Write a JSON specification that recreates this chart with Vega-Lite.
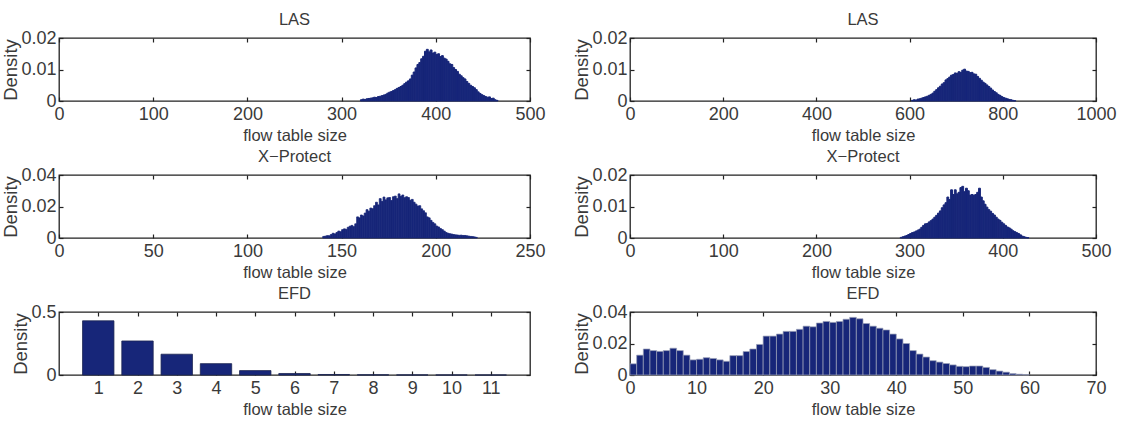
{
  "$schema": "https://vega.github.io/schema/vega-lite/v6.json",
  "padding": {"left": 1, "top": 10, "right": 2, "bottom": 2},
  "background": "white",
  "config": {
    "font": "Liberation Sans",
    "view": {"stroke": "#222222", "strokeWidth": 1.3},
    "axis": {"labelFont": "Liberation Sans", "titleFont": "Liberation Sans", "labelFontSize": 18, "titleFontSize": 18, "titleFontWeight": "normal", "labelColor": "#3a3a3a", "titleColor": "#3a3a3a", "tickColor": "#222222", "tickSize": -4, "tickWidth": 1.2, "labelPadding": 8, "domain": false, "grid": false, "labelFlush": false, "labelOverlap": false, "labelBound": false},
    "axisX": {"titlePadding": 4, "titleFontSize": 16.5},
    "axisY": {"titlePadding": 0, "labelPadding": 7, "titleFontSize": 18.5},
    "axisTop": {"minExtent": 0},
    "axisRight": {"minExtent": 0},
    "title": {"font": "Liberation Sans", "fontSize": 16.5, "fontWeight": "normal", "color": "#3a3a3a", "offset": 1},
    "bar": {"color": "#172679"}
  },
  "bounds": "flush",
  "columns": 2,
  "spacing": {"row": 74, "column": 100},
  "datasets": {
    "lasL": [
      {"lo":320,"hi":322,"density":0.0004},{"lo":322,"hi":324,"density":0.0006},{"lo":324,"hi":326,"density":0.0005},{"lo":326,"hi":328,"density":0.0007},{"lo":328,"hi":330,"density":0.0008},{"lo":330,"hi":332,"density":0.0009},{"lo":332,"hi":334,"density":0.0010},{"lo":334,"hi":336,"density":0.0012},{"lo":336,"hi":338,"density":0.0011},{"lo":338,"hi":340,"density":0.0014},{"lo":340,"hi":342,"density":0.0015},{"lo":342,"hi":344,"density":0.0017},{"lo":344,"hi":346,"density":0.0019},{"lo":346,"hi":348,"density":0.0021},{"lo":348,"hi":350,"density":0.0025},{"lo":350,"hi":352,"density":0.0028},{"lo":352,"hi":354,"density":0.0030},{"lo":354,"hi":356,"density":0.0033},{"lo":356,"hi":358,"density":0.0036},{"lo":358,"hi":360,"density":0.0040},{"lo":360,"hi":362,"density":0.0043},{"lo":362,"hi":364,"density":0.0046},{"lo":364,"hi":366,"density":0.0050},{"lo":366,"hi":368,"density":0.0055},{"lo":368,"hi":370,"density":0.0060},{"lo":370,"hi":372,"density":0.0064},{"lo":372,"hi":374,"density":0.0070},{"lo":374,"hi":376,"density":0.0082},{"lo":376,"hi":378,"density":0.0092},{"lo":378,"hi":380,"density":0.0105},{"lo":380,"hi":382,"density":0.0116},{"lo":382,"hi":384,"density":0.0122},{"lo":384,"hi":386,"density":0.0134},{"lo":386,"hi":388,"density":0.0142},{"lo":388,"hi":390,"density":0.0158},{"lo":390,"hi":392,"density":0.0164},{"lo":392,"hi":394,"density":0.0156},{"lo":394,"hi":396,"density":0.0162},{"lo":396,"hi":398,"density":0.0152},{"lo":398,"hi":400,"density":0.0155},{"lo":400,"hi":402,"density":0.0148},{"lo":402,"hi":404,"density":0.0150},{"lo":404,"hi":406,"density":0.0141},{"lo":406,"hi":408,"density":0.0144},{"lo":408,"hi":410,"density":0.0136},{"lo":410,"hi":412,"density":0.0133},{"lo":412,"hi":414,"density":0.0126},{"lo":414,"hi":416,"density":0.0118},{"lo":416,"hi":418,"density":0.0116},{"lo":418,"hi":420,"density":0.0106},{"lo":420,"hi":422,"density":0.0100},{"lo":422,"hi":424,"density":0.0094},{"lo":424,"hi":426,"density":0.0085},{"lo":426,"hi":428,"density":0.0080},{"lo":428,"hi":430,"density":0.0074},{"lo":430,"hi":432,"density":0.0070},{"lo":432,"hi":434,"density":0.0062},{"lo":434,"hi":436,"density":0.0056},{"lo":436,"hi":438,"density":0.0050},{"lo":438,"hi":440,"density":0.0046},{"lo":440,"hi":442,"density":0.0042},{"lo":442,"hi":444,"density":0.0036},{"lo":444,"hi":446,"density":0.0029},{"lo":446,"hi":448,"density":0.0024},{"lo":448,"hi":450,"density":0.0020},{"lo":450,"hi":452,"density":0.0017},{"lo":452,"hi":454,"density":0.0014},{"lo":454,"hi":456,"density":0.0012},{"lo":456,"hi":458,"density":0.0013},{"lo":458,"hi":460,"density":0.0008},{"lo":460,"hi":462,"density":0.0009},{"lo":462,"hi":464,"density":0.0004},{"lo":464,"hi":466,"density":0.0002}
    ],
    "lasR": [
      {"lo":604,"hi":608,"density":0.0002},{"lo":608,"hi":612,"density":0.0004},{"lo":612,"hi":616,"density":0.0003},{"lo":616,"hi":620,"density":0.0006},{"lo":620,"hi":624,"density":0.0007},{"lo":624,"hi":628,"density":0.0009},{"lo":628,"hi":632,"density":0.0011},{"lo":632,"hi":636,"density":0.0013},{"lo":636,"hi":640,"density":0.0015},{"lo":640,"hi":644,"density":0.0018},{"lo":644,"hi":648,"density":0.0021},{"lo":648,"hi":652,"density":0.0025},{"lo":652,"hi":656,"density":0.0031},{"lo":656,"hi":660,"density":0.0036},{"lo":660,"hi":664,"density":0.0042},{"lo":664,"hi":668,"density":0.0047},{"lo":668,"hi":672,"density":0.0054},{"lo":672,"hi":676,"density":0.0058},{"lo":676,"hi":680,"density":0.0067},{"lo":680,"hi":684,"density":0.0071},{"lo":684,"hi":688,"density":0.0076},{"lo":688,"hi":692,"density":0.0082},{"lo":692,"hi":696,"density":0.0084},{"lo":696,"hi":700,"density":0.0089},{"lo":700,"hi":704,"density":0.0088},{"lo":704,"hi":708,"density":0.0093},{"lo":708,"hi":712,"density":0.0091},{"lo":712,"hi":716,"density":0.0098},{"lo":716,"hi":720,"density":0.0101},{"lo":720,"hi":724,"density":0.0095},{"lo":724,"hi":728,"density":0.0094},{"lo":728,"hi":732,"density":0.0090},{"lo":732,"hi":736,"density":0.0091},{"lo":736,"hi":740,"density":0.0086},{"lo":740,"hi":744,"density":0.0085},{"lo":744,"hi":748,"density":0.0078},{"lo":748,"hi":752,"density":0.0072},{"lo":752,"hi":756,"density":0.0066},{"lo":756,"hi":760,"density":0.0060},{"lo":760,"hi":764,"density":0.0056},{"lo":764,"hi":768,"density":0.0051},{"lo":768,"hi":772,"density":0.0046},{"lo":772,"hi":776,"density":0.0041},{"lo":776,"hi":780,"density":0.0035},{"lo":780,"hi":784,"density":0.0030},{"lo":784,"hi":788,"density":0.0026},{"lo":788,"hi":792,"density":0.0021},{"lo":792,"hi":796,"density":0.0018},{"lo":796,"hi":800,"density":0.0014},{"lo":800,"hi":804,"density":0.0011},{"lo":804,"hi":808,"density":0.0009},{"lo":808,"hi":812,"density":0.0007},{"lo":812,"hi":816,"density":0.0005},{"lo":816,"hi":820,"density":0.0004},{"lo":820,"hi":824,"density":0.0002},{"lo":824,"hi":828,"density":0.0001}
    ],
    "xpL": [
      {"lo":140,"hi":141,"density":0.0010},{"lo":141,"hi":142,"density":0.0012},{"lo":142,"hi":143,"density":0.0015},{"lo":143,"hi":144,"density":0.0014},{"lo":144,"hi":145,"density":0.0022},{"lo":145,"hi":146,"density":0.0030},{"lo":146,"hi":147,"density":0.0026},{"lo":147,"hi":148,"density":0.0035},{"lo":148,"hi":149,"density":0.0044},{"lo":149,"hi":150,"density":0.0040},{"lo":150,"hi":151,"density":0.0053},{"lo":151,"hi":152,"density":0.0058},{"lo":152,"hi":153,"density":0.0055},{"lo":153,"hi":154,"density":0.0068},{"lo":154,"hi":155,"density":0.0075},{"lo":155,"hi":156,"density":0.0080},{"lo":156,"hi":157,"density":0.0072},{"lo":157,"hi":158,"density":0.0090},{"lo":158,"hi":159,"density":0.0134},{"lo":159,"hi":160,"density":0.0128},{"lo":160,"hi":161,"density":0.0146},{"lo":161,"hi":162,"density":0.0140},{"lo":162,"hi":163,"density":0.0158},{"lo":163,"hi":164,"density":0.0180},{"lo":164,"hi":165,"density":0.0170},{"lo":165,"hi":166,"density":0.0190},{"lo":166,"hi":167,"density":0.0186},{"lo":167,"hi":168,"density":0.0205},{"lo":168,"hi":169,"density":0.0227},{"lo":169,"hi":170,"density":0.0210},{"lo":170,"hi":171,"density":0.0250},{"lo":171,"hi":172,"density":0.0232},{"lo":172,"hi":173,"density":0.0260},{"lo":173,"hi":174,"density":0.0242},{"lo":174,"hi":175,"density":0.0255},{"lo":175,"hi":176,"density":0.0257},{"lo":176,"hi":177,"density":0.0238},{"lo":177,"hi":178,"density":0.0262},{"lo":178,"hi":179,"density":0.0266},{"lo":179,"hi":180,"density":0.0250},{"lo":180,"hi":181,"density":0.0280},{"lo":181,"hi":182,"density":0.0265},{"lo":182,"hi":183,"density":0.0273},{"lo":183,"hi":184,"density":0.0256},{"lo":184,"hi":185,"density":0.0262},{"lo":185,"hi":186,"density":0.0257},{"lo":186,"hi":187,"density":0.0240},{"lo":187,"hi":188,"density":0.0245},{"lo":188,"hi":189,"density":0.0227},{"lo":189,"hi":190,"density":0.0215},{"lo":190,"hi":191,"density":0.0203},{"lo":191,"hi":192,"density":0.0205},{"lo":192,"hi":193,"density":0.0185},{"lo":193,"hi":194,"density":0.0173},{"lo":194,"hi":195,"density":0.0160},{"lo":195,"hi":196,"density":0.0134},{"lo":196,"hi":197,"density":0.0128},{"lo":197,"hi":198,"density":0.0112},{"lo":198,"hi":199,"density":0.0099},{"lo":199,"hi":200,"density":0.0090},{"lo":200,"hi":201,"density":0.0076},{"lo":201,"hi":202,"density":0.0070},{"lo":202,"hi":203,"density":0.0060},{"lo":203,"hi":204,"density":0.0053},{"lo":204,"hi":205,"density":0.0044},{"lo":205,"hi":206,"density":0.0035},{"lo":206,"hi":207,"density":0.0030},{"lo":207,"hi":208,"density":0.0027},{"lo":208,"hi":209,"density":0.0025},{"lo":209,"hi":210,"density":0.0022},{"lo":210,"hi":211,"density":0.0020},{"lo":211,"hi":212,"density":0.0019},{"lo":212,"hi":213,"density":0.0017},{"lo":213,"hi":214,"density":0.0018},{"lo":214,"hi":215,"density":0.0016},{"lo":215,"hi":216,"density":0.0016},{"lo":216,"hi":217,"density":0.0014},{"lo":217,"hi":218,"density":0.0012},{"lo":218,"hi":219,"density":0.0010},{"lo":219,"hi":220,"density":0.0009},{"lo":220,"hi":221,"density":0.0007},{"lo":221,"hi":222,"density":0.0004}
    ],
    "xpR": [
      {"lo":290,"hi":292,"density":0.0002},{"lo":292,"hi":294,"density":0.0004},{"lo":294,"hi":296,"density":0.0006},{"lo":296,"hi":298,"density":0.0008},{"lo":298,"hi":300,"density":0.0011},{"lo":300,"hi":302,"density":0.0014},{"lo":302,"hi":304,"density":0.0017},{"lo":304,"hi":306,"density":0.0019},{"lo":306,"hi":308,"density":0.0022},{"lo":308,"hi":310,"density":0.0025},{"lo":310,"hi":312,"density":0.0028},{"lo":312,"hi":314,"density":0.0034},{"lo":314,"hi":316,"density":0.0040},{"lo":316,"hi":318,"density":0.0045},{"lo":318,"hi":320,"density":0.0046},{"lo":320,"hi":322,"density":0.0051},{"lo":322,"hi":324,"density":0.0055},{"lo":324,"hi":326,"density":0.0060},{"lo":326,"hi":328,"density":0.0066},{"lo":328,"hi":330,"density":0.0072},{"lo":330,"hi":332,"density":0.0079},{"lo":332,"hi":334,"density":0.0086},{"lo":334,"hi":336,"density":0.0096},{"lo":336,"hi":338,"density":0.0105},{"lo":338,"hi":340,"density":0.0112},{"lo":340,"hi":342,"density":0.0130},{"lo":342,"hi":344,"density":0.0122},{"lo":344,"hi":346,"density":0.0153},{"lo":346,"hi":348,"density":0.0138},{"lo":348,"hi":350,"density":0.0153},{"lo":350,"hi":352,"density":0.0140},{"lo":352,"hi":354,"density":0.0145},{"lo":354,"hi":356,"density":0.0160},{"lo":356,"hi":358,"density":0.0164},{"lo":358,"hi":360,"density":0.0147},{"lo":360,"hi":362,"density":0.0158},{"lo":362,"hi":364,"density":0.0150},{"lo":364,"hi":366,"density":0.0136},{"lo":366,"hi":368,"density":0.0138},{"lo":368,"hi":370,"density":0.0136},{"lo":370,"hi":372,"density":0.0138},{"lo":372,"hi":374,"density":0.0145},{"lo":374,"hi":376,"density":0.0158},{"lo":376,"hi":378,"density":0.0130},{"lo":378,"hi":380,"density":0.0118},{"lo":380,"hi":382,"density":0.0107},{"lo":382,"hi":384,"density":0.0098},{"lo":384,"hi":386,"density":0.0090},{"lo":386,"hi":388,"density":0.0085},{"lo":388,"hi":390,"density":0.0078},{"lo":390,"hi":392,"density":0.0073},{"lo":392,"hi":394,"density":0.0066},{"lo":394,"hi":396,"density":0.0060},{"lo":396,"hi":398,"density":0.0056},{"lo":398,"hi":400,"density":0.0050},{"lo":400,"hi":402,"density":0.0045},{"lo":402,"hi":404,"density":0.0040},{"lo":404,"hi":406,"density":0.0035},{"lo":406,"hi":408,"density":0.0032},{"lo":408,"hi":410,"density":0.0028},{"lo":410,"hi":412,"density":0.0023},{"lo":412,"hi":414,"density":0.0020},{"lo":414,"hi":416,"density":0.0017},{"lo":416,"hi":418,"density":0.0014},{"lo":418,"hi":420,"density":0.0010},{"lo":420,"hi":422,"density":0.0006},{"lo":422,"hi":424,"density":0.0004},{"lo":424,"hi":426,"density":0.0002},{"lo":426,"hi":428,"density":0.0001}
    ],
    "efdL": [
      {"lo":0.6,"hi":1.4,"density":0.43},{"lo":1.6,"hi":2.4,"density":0.27},{"lo":2.6,"hi":3.4,"density":0.165},{"lo":3.6,"hi":4.4,"density":0.09},{"lo":4.6,"hi":5.4,"density":0.035},{"lo":5.6,"hi":6.4,"density":0.012},{"lo":6.6,"hi":7.4,"density":0.004},{"lo":7.6,"hi":8.4,"density":0.0015},{"lo":8.6,"hi":9.4,"density":0.0006},{"lo":9.6,"hi":10.4,"density":0.0003},{"lo":10.6,"hi":11.4,"density":0.0001}
    ],
    "efdR": [
      {"lo":0,"hi":1,"density":0.0071},{"lo":1,"hi":2,"density":0.0126},{"lo":2,"hi":3,"density":0.0165},{"lo":3,"hi":4,"density":0.0155},{"lo":4,"hi":5,"density":0.0150},{"lo":5,"hi":6,"density":0.0155},{"lo":6,"hi":7,"density":0.0170},{"lo":7,"hi":8,"density":0.0155},{"lo":8,"hi":9,"density":0.0126},{"lo":9,"hi":10,"density":0.0096},{"lo":10,"hi":11,"density":0.0100},{"lo":11,"hi":12,"density":0.0110},{"lo":12,"hi":13,"density":0.0105},{"lo":13,"hi":14,"density":0.0096},{"lo":14,"hi":15,"density":0.0087},{"lo":15,"hi":16,"density":0.0123},{"lo":16,"hi":17,"density":0.0123},{"lo":17,"hi":18,"density":0.0149},{"lo":18,"hi":19,"density":0.0165},{"lo":19,"hi":20,"density":0.0194},{"lo":20,"hi":21,"density":0.0247},{"lo":21,"hi":22,"density":0.0247},{"lo":22,"hi":23,"density":0.0260},{"lo":23,"hi":24,"density":0.0277},{"lo":24,"hi":25,"density":0.0277},{"lo":25,"hi":26,"density":0.0290},{"lo":26,"hi":27,"density":0.0310},{"lo":27,"hi":28,"density":0.0306},{"lo":28,"hi":29,"density":0.0330},{"lo":29,"hi":30,"density":0.0340},{"lo":30,"hi":31,"density":0.0334},{"lo":31,"hi":32,"density":0.0340},{"lo":32,"hi":33,"density":0.0354},{"lo":33,"hi":34,"density":0.0366},{"lo":34,"hi":35,"density":0.0357},{"lo":35,"hi":36,"density":0.0327},{"lo":36,"hi":37,"density":0.0310},{"lo":37,"hi":38,"density":0.0297},{"lo":38,"hi":39,"density":0.0286},{"lo":39,"hi":40,"density":0.0260},{"lo":40,"hi":41,"density":0.0229},{"lo":41,"hi":42,"density":0.0200},{"lo":42,"hi":43,"density":0.0155},{"lo":43,"hi":44,"density":0.0133},{"lo":44,"hi":45,"density":0.0114},{"lo":45,"hi":46,"density":0.0091},{"lo":46,"hi":47,"density":0.0082},{"lo":47,"hi":48,"density":0.0073},{"lo":48,"hi":49,"density":0.0064},{"lo":49,"hi":50,"density":0.0055},{"lo":50,"hi":51,"density":0.0053},{"lo":51,"hi":52,"density":0.0057},{"lo":52,"hi":53,"density":0.0057},{"lo":53,"hi":54,"density":0.0048},{"lo":54,"hi":55,"density":0.0034},{"lo":55,"hi":56,"density":0.0025},{"lo":56,"hi":57,"density":0.0018},{"lo":57,"hi":58,"density":0.0009},{"lo":58,"hi":59,"density":0.0005},{"lo":59,"hi":60,"density":0.0002}
    ]
  },
  "concat": [
    {
      "title": "LAS", "width": 471, "height": 63, "data": {"name": "lasL"},
      "layer": [
        {"mark": {"type": "bar", "stroke": "#172679", "strokeWidth": 1},
         "encoding": {
           "x": {"field": "lo", "type": "quantitative", "scale": {"domain": [0, 500], "nice": false, "zero": false}, "axis": {"orient": "bottom", "values": [0, 100, 200, 300, 400, 500], "format": "d", "title": "flow table size"}},
           "x2": {"field": "hi"},
           "y": {"field": "density", "type": "quantitative", "scale": {"domain": [0, 0.02], "nice": false}, "axis": {"orient": "left", "values": [0, 0.01, 0.02], "format": "~g", "title": "Density"}},
           "y2": {"datum": 0}}},
        {"mark": {"type": "bar", "opacity": 0},
         "encoding": {
           "x": {"field": "lo", "type": "quantitative", "axis": {"orient": "top", "values": [0, 100, 200, 300, 400, 500], "labels": false, "title": null}},
           "x2": {"field": "hi"},
           "y": {"field": "density", "type": "quantitative", "axis": {"orient": "right", "values": [0, 0.01, 0.02], "labels": false, "title": null}},
           "y2": {"datum": 0}}}
      ],
      "resolve": {"axis": {"x": "independent", "y": "independent"}}
    },
    {
      "title": "LAS", "width": 466, "height": 63, "data": {"name": "lasR"},
      "layer": [
        {"mark": {"type": "bar", "stroke": "#172679", "strokeWidth": 1},
         "encoding": {
           "x": {"field": "lo", "type": "quantitative", "scale": {"domain": [0, 1000], "nice": false, "zero": false}, "axis": {"orient": "bottom", "values": [0, 200, 400, 600, 800, 1000], "format": "d", "title": "flow table size"}},
           "x2": {"field": "hi"},
           "y": {"field": "density", "type": "quantitative", "scale": {"domain": [0, 0.02], "nice": false}, "axis": {"orient": "left", "values": [0, 0.01, 0.02], "format": "~g", "title": "Density"}},
           "y2": {"datum": 0}}},
        {"mark": {"type": "bar", "opacity": 0},
         "encoding": {
           "x": {"field": "lo", "type": "quantitative", "axis": {"orient": "top", "values": [0, 200, 400, 600, 800, 1000], "labels": false, "title": null}},
           "x2": {"field": "hi"},
           "y": {"field": "density", "type": "quantitative", "axis": {"orient": "right", "values": [0, 0.01, 0.02], "labels": false, "title": null}},
           "y2": {"datum": 0}}}
      ],
      "resolve": {"axis": {"x": "independent", "y": "independent"}}
    },
    {
      "title": "X\u2212Protect", "width": 471, "height": 63, "data": {"name": "xpL"},
      "layer": [
        {"mark": {"type": "bar", "stroke": "#172679", "strokeWidth": 0.8},
         "encoding": {
           "x": {"field": "lo", "type": "quantitative", "scale": {"domain": [0, 250], "nice": false, "zero": false}, "axis": {"orient": "bottom", "values": [0, 50, 100, 150, 200, 250], "format": "d", "title": "flow table size"}},
           "x2": {"field": "hi"},
           "y": {"field": "density", "type": "quantitative", "scale": {"domain": [0, 0.04], "nice": false}, "axis": {"orient": "left", "values": [0, 0.02, 0.04], "format": "~g", "title": "Density"}},
           "y2": {"datum": 0}}},
        {"mark": {"type": "bar", "opacity": 0},
         "encoding": {
           "x": {"field": "lo", "type": "quantitative", "axis": {"orient": "top", "values": [0, 50, 100, 150, 200, 250], "labels": false, "title": null}},
           "x2": {"field": "hi"},
           "y": {"field": "density", "type": "quantitative", "axis": {"orient": "right", "values": [0, 0.02, 0.04], "labels": false, "title": null}},
           "y2": {"datum": 0}}}
      ],
      "resolve": {"axis": {"x": "independent", "y": "independent"}}
    },
    {
      "title": "X\u2212Protect", "width": 466, "height": 63, "data": {"name": "xpR"},
      "layer": [
        {"mark": {"type": "bar", "stroke": "#172679", "strokeWidth": 1},
         "encoding": {
           "x": {"field": "lo", "type": "quantitative", "scale": {"domain": [0, 500], "nice": false, "zero": false}, "axis": {"orient": "bottom", "values": [0, 100, 200, 300, 400, 500], "format": "d", "title": "flow table size"}},
           "x2": {"field": "hi"},
           "y": {"field": "density", "type": "quantitative", "scale": {"domain": [0, 0.02], "nice": false}, "axis": {"orient": "left", "values": [0, 0.01, 0.02], "format": "~g", "title": "Density"}},
           "y2": {"datum": 0}}},
        {"mark": {"type": "bar", "opacity": 0},
         "encoding": {
           "x": {"field": "lo", "type": "quantitative", "axis": {"orient": "top", "values": [0, 100, 200, 300, 400, 500], "labels": false, "title": null}},
           "x2": {"field": "hi"},
           "y": {"field": "density", "type": "quantitative", "axis": {"orient": "right", "values": [0, 0.01, 0.02], "labels": false, "title": null}},
           "y2": {"datum": 0}}}
      ],
      "resolve": {"axis": {"x": "independent", "y": "independent"}}
    },
    {
      "title": "EFD", "width": 471, "height": 63, "data": {"name": "efdL"},
      "layer": [
        {"mark": {"type": "bar", "stroke": "#1d2650", "strokeWidth": 0.8},
         "encoding": {
           "x": {"field": "lo", "type": "quantitative", "scale": {"domain": [0, 12], "nice": false, "zero": false}, "axis": {"orient": "bottom", "values": [1, 2, 3, 4, 5, 6, 7, 8, 9, 10, 11], "format": "d", "title": "flow table size"}},
           "x2": {"field": "hi"},
           "y": {"field": "density", "type": "quantitative", "scale": {"domain": [0, 0.5], "nice": false}, "axis": {"orient": "left", "values": [0, 0.5], "format": "~g", "title": "Density"}},
           "y2": {"datum": 0}}},
        {"mark": {"type": "bar", "opacity": 0},
         "encoding": {
           "x": {"field": "lo", "type": "quantitative", "axis": {"orient": "top", "values": [1, 2, 3, 4, 5, 6, 7, 8, 9, 10, 11], "labels": false, "title": null}},
           "x2": {"field": "hi"},
           "y": {"field": "density", "type": "quantitative", "axis": {"orient": "right", "values": [0, 0.5], "labels": false, "title": null}},
           "y2": {"datum": 0}}}
      ],
      "resolve": {"axis": {"x": "independent", "y": "independent"}}
    },
    {
      "title": "EFD", "width": 466, "height": 63, "data": {"name": "efdR"},
      "layer": [
        {"mark": {"type": "bar", "stroke": "#9ca2b8", "strokeWidth": 0.7},
         "encoding": {
           "x": {"field": "lo", "type": "quantitative", "scale": {"domain": [0, 70], "nice": false, "zero": false}, "axis": {"orient": "bottom", "values": [0, 10, 20, 30, 40, 50, 60, 70], "format": "d", "title": "flow table size"}},
           "x2": {"field": "hi"},
           "y": {"field": "density", "type": "quantitative", "scale": {"domain": [0, 0.04], "nice": false}, "axis": {"orient": "left", "values": [0, 0.02, 0.04], "format": "~g", "title": "Density"}},
           "y2": {"datum": 0}}},
        {"mark": {"type": "bar", "opacity": 0},
         "encoding": {
           "x": {"field": "lo", "type": "quantitative", "axis": {"orient": "top", "values": [0, 10, 20, 30, 40, 50, 60, 70], "labels": false, "title": null}},
           "x2": {"field": "hi"},
           "y": {"field": "density", "type": "quantitative", "axis": {"orient": "right", "values": [0, 0.02, 0.04], "labels": false, "title": null}},
           "y2": {"datum": 0}}}
      ],
      "resolve": {"axis": {"x": "independent", "y": "independent"}}
    }
  ]
}
